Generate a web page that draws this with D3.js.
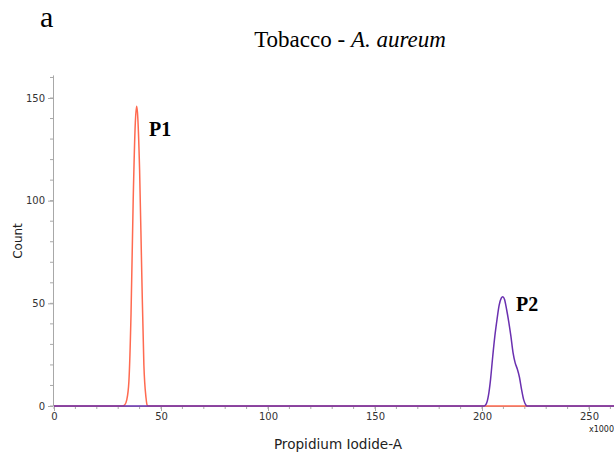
<!DOCTYPE html>
<html><head><meta charset="utf-8">
<script src="https://cdn.jsdelivr.net/npm/d3@7"></script>
<style>body{margin:0;background:#fff}</style>
</head><body>
<svg id="c" width="614" height="456"></svg>
<script>
// Data (x in thousands, count)
const p1X = [0, 30, 32, 33, 34, 35, 36, 37, 38, 38.6, 39, 40, 41, 42, 43, 43.5, 44, 100, 200, 262.144];
const p1Y = [0, 0, 0, 0.5, 3, 12, 45, 100, 138, 146, 143, 115, 65, 20, 4, 0.5, 0, 0, 0, 0];
const p2X = [0, 100, 200, 201, 202, 203, 204, 205, 206, 207, 208, 209, 209.7, 210.5, 211.5, 212.5, 213.5, 214.5, 215.5, 216.5, 217.5, 218.5, 219.5, 220.5, 221, 262.144];
const p2Y = [0, 0, 0, 0, 1, 5, 13, 24, 34, 42, 49, 52.5, 53.2, 52, 47, 41, 34, 26, 21, 18, 14, 8, 3, 0.5, 0, 0];
const xTicks = [0, 50, 100, 150, 200, 250];
const xMinor = d3.range(0, 261, 10);
const yTicks = [0, 50, 100, 150];
const yMinor = d3.range(0, 161, 10);

const svg = d3.select("#c");
const x = d3.scaleLinear().domain([0, 262.144]).range([54, 54 + 262.144 * 2.14]);
const y = d3.scaleLinear().domain([0, 161]).range([406, 406 - 161 * 2.0533]);
const grey = "#a8a8a8";

// minor ticks
const gx = svg.append("g").attr("transform", "translate(0,406)");
gx.selectAll("line.mn").data(xMinor).join("line")
  .attr("x1", d => x(d)).attr("x2", d => x(d)).attr("y1", 0).attr("y2", 3)
  .attr("stroke", grey);
gx.call(d3.axisBottom(x).tickValues(xTicks).tickSize(5).tickFormat(d3.format("d")))
  .call(g => g.select(".domain").attr("stroke", grey).attr("d", `M${x(0)},0.5H${x(262.144)}`))
  .call(g => g.selectAll(".tick line").attr("stroke", grey))
  .call(g => g.selectAll(".tick text").attr("fill", "#333").attr("font-family", "DejaVu Sans").attr("font-size", 10).attr("dy", "0.55em"));

const gy = svg.append("g").attr("transform", "translate(53,0)");
gy.selectAll("line.mn").data(yMinor).join("line")
  .attr("y1", d => y(d)).attr("y2", d => y(d)).attr("x1", 0).attr("x2", -3)
  .attr("stroke", grey);
gy.call(d3.axisLeft(y).tickValues(yTicks).tickSize(5).tickFormat(d3.format("d")))
  .call(g => g.select(".domain").attr("stroke", grey).attr("d", `M0.5,${y(161)}V${y(0)}`))
  .call(g => g.selectAll(".tick line").attr("stroke", grey))
  .call(g => g.selectAll(".tick text").attr("fill", "#333").attr("font-family", "DejaVu Sans").attr("font-size", 10));

const line = d3.line().x(d => x(d[0])).y(d => y(d[1])).curve(d3.curveMonotoneX);
svg.append("path").datum(d3.zip(p1X, p1Y)).attr("d", line)
  .attr("fill", "none").attr("stroke", "#ff6a50").attr("stroke-width", 1.5);
svg.append("path").datum(d3.zip(p2X, p2Y)).attr("d", line)
  .attr("fill", "none").attr("stroke", "#6a30b0").attr("stroke-width", 1.5);

// Labels
svg.append("text").attr("x", 40).attr("y", 27).attr("font-family", "Liberation Serif").attr("font-size", 30).text("a");
const t = svg.append("text").attr("x", 350).attr("y", 47).attr("text-anchor", "middle")
  .attr("font-family", "Liberation Serif").attr("font-size", 23);
t.append("tspan").text("Tobacco - ");
t.append("tspan").attr("font-style", "italic").text("A. aureum");

svg.append("text").attr("x", 149).attr("y", 136).attr("font-family", "Liberation Serif").attr("font-weight", "bold").attr("font-size", 20).text("P1");
svg.append("text").attr("x", 516).attr("y", 311).attr("font-family", "Liberation Serif").attr("font-weight", "bold").attr("font-size", 20).text("P2");

svg.append("text").attr("transform", "translate(22,241) rotate(-90)").attr("text-anchor", "middle")
  .attr("font-family", "DejaVu Sans").attr("font-size", 12).attr("fill", "#222").text("Count");
svg.append("text").attr("x", 338).attr("y", 449).attr("text-anchor", "middle")
  .attr("font-family", "DejaVu Sans").attr("font-size", 13.6).attr("fill", "#222").text("Propidium Iodide-A");
svg.append("text").attr("x", 614).attr("y", 432).attr("text-anchor", "end")
  .attr("font-family", "DejaVu Sans").attr("font-size", 8).attr("fill", "#222").text("x1000");
</script>
</body></html>
